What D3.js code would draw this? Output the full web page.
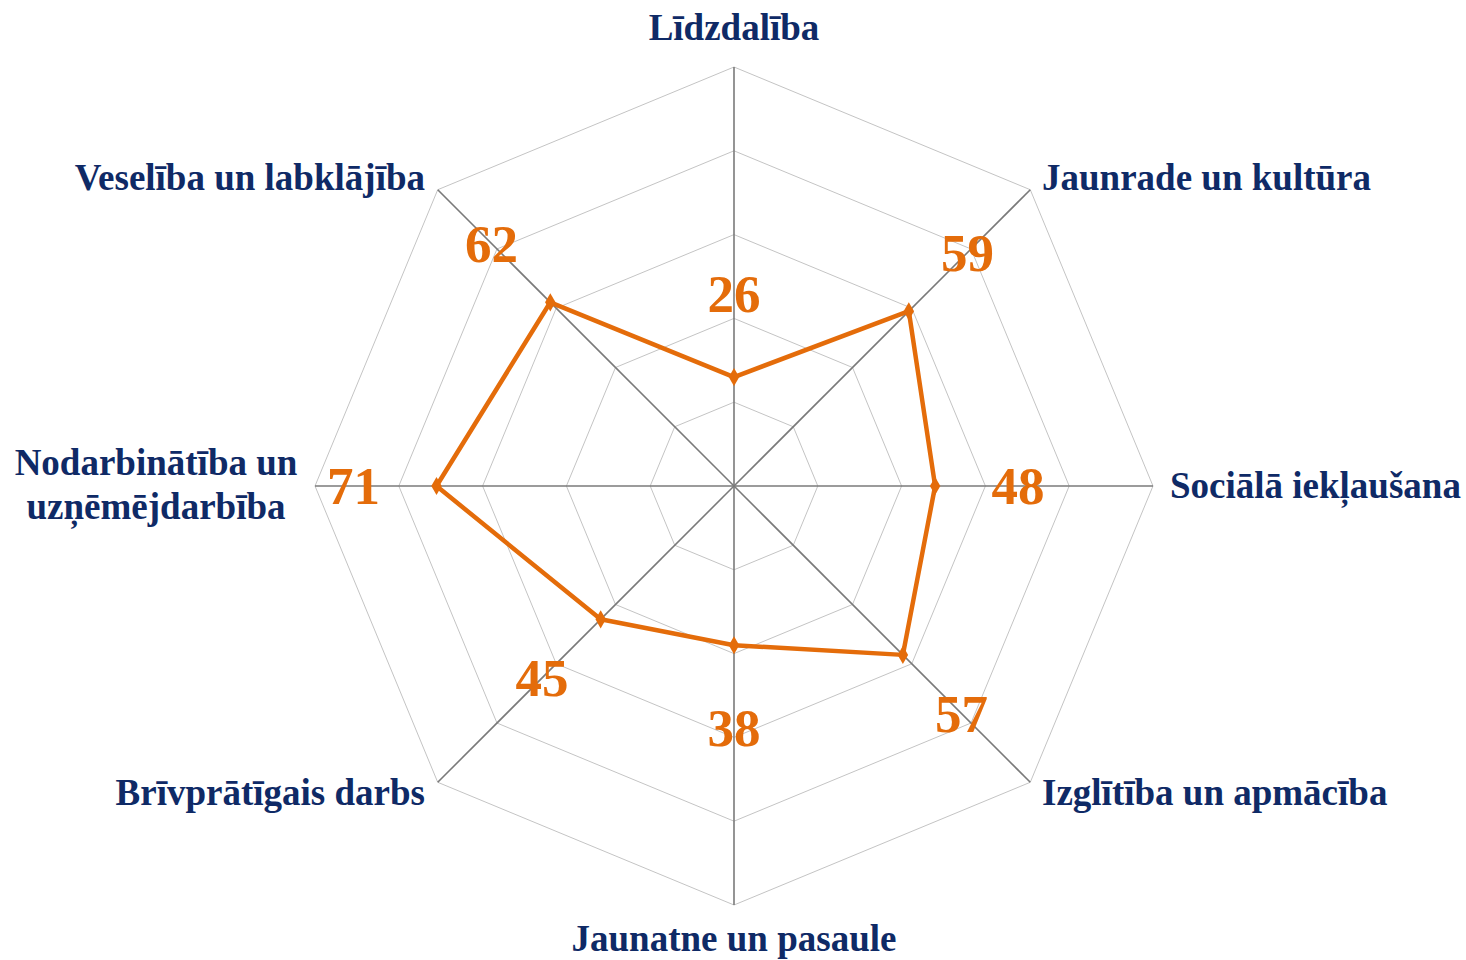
<!DOCTYPE html>
<html>
<head>
<meta charset="utf-8">
<script src="https://cdn.jsdelivr.net/npm/d3@7"></script>
<style>
  body { margin: 0; background: #fff; }
  svg text { font-family: "Liberation Serif", "Times New Roman", serif; font-weight: bold; }
</style>
</head>
<body>
<div id="chart"></div>
<script>
const categories = [
  "Līdzdalība",
  "Jaunrade un kultūra",
  "Sociālā iekļaušana",
  "Izglītība un apmācība",
  "Jaunatne un pasaule",
  "Brīvprātīgais darbs",
  "Nodarbinātība un uzņēmējdarbība",
  "Veselība un labklājība"
];
const values = [26, 59, 48, 57, 38, 45, 71, 62];
const gridLevels = [20, 40, 60, 80, 100];

const width = 1466;
const height = 960;
const cx = 734, cy = 486;
const radius = 419;

const svg = d3.select("#chart").append("svg")
  .attr("width", width)
  .attr("height", height);

const r = d3.scaleLinear().domain([0, 100]).range([0, radius]);
const angle = d3.scaleLinear().domain([0, categories.length]).range([0, 2 * Math.PI]);

const pt = (i, rr) => [cx + rr * Math.sin(angle(i)), cy - rr * Math.cos(angle(i))];

// grid rings
svg.append("g").selectAll("polygon")
  .data(gridLevels)
  .join("polygon")
  .attr("points", lv => categories.map((c, i) => pt(i, r(lv)).join(",")).join(" "))
  .attr("fill", "none")
  .attr("stroke", "#c4c4c4")
  .attr("stroke-width", 1);

// spokes
svg.append("g").selectAll("line")
  .data(categories)
  .join("line")
  .attr("x1", cx).attr("y1", cy)
  .attr("x2", (d, i) => pt(i, radius)[0])
  .attr("y2", (d, i) => pt(i, radius)[1])
  .attr("stroke", "#7a7a7a")
  .attr("stroke-width", 1.6);

// data line
const line = d3.lineRadial()
  .angle((d, i) => angle(i))
  .radius(d => r(d))
  .curve(d3.curveLinearClosed);

svg.append("path")
  .attr("transform", `translate(${cx},${cy})`)
  .attr("d", line(values))
  .attr("fill", "none")
  .attr("stroke", "#e46c0a")
  .attr("stroke-width", 4.5)
  .attr("stroke-linejoin", "round");

svg.append("g").selectAll("path")
  .data(values)
  .join("path")
  .attr("transform", (d, i) => `translate(${pt(i, r(d))})`)
  .attr("d", d3.symbol(d3.symbolDiamond, 95))
  .attr("fill", "#e46c0a");

// value labels
svg.append("g").selectAll("text")
  .data(values)
  .join("text")
  .attr("x", (d, i) => pt(i, r(d) + 83)[0])
  .attr("y", (d, i) => pt(i, r(d) + 83)[1] + 18)
  .attr("text-anchor", "middle")
  .attr("font-size", 53)
  .attr("fill", "#e46c0a")
  .text(d => d);

// category labels
const labelPos = [
  { x: 734, y: 28, anchor: "middle" },
  { x: 1042, y: 178, anchor: "start" },
  { x: 1170, y: 486, anchor: "start" },
  { x: 1042, y: 793, anchor: "start" },
  { x: 734, y: 939, anchor: "middle" },
  { x: 425, y: 793, anchor: "end" },
  { x: 156, y: 485, anchor: "middle" },
  { x: 425, y: 178, anchor: "end" }
];

const catText = svg.append("g").selectAll("text")
  .data(categories)
  .join("text")
  .attr("x", (d, i) => labelPos[i].x)
  .attr("y", (d, i) => labelPos[i].y)
  .attr("text-anchor", (d, i) => labelPos[i].anchor)
  .attr("font-size", 37)
  .attr("fill", "#0f2a66");

catText.each(function (d, i) {
  const t = d3.select(this);
  const lines = i === 6 ? ["Nodarbinātība un", "uzņēmējdarbība"] : [d];
  const y0 = labelPos[i].y - (lines.length - 1) * 22 + 12;
  lines.forEach((s, k) => {
    t.append("tspan")
      .attr("x", labelPos[i].x)
      .attr("y", y0 + k * 44)
      .text(s);
  });
});
</script>
</body>
</html>
